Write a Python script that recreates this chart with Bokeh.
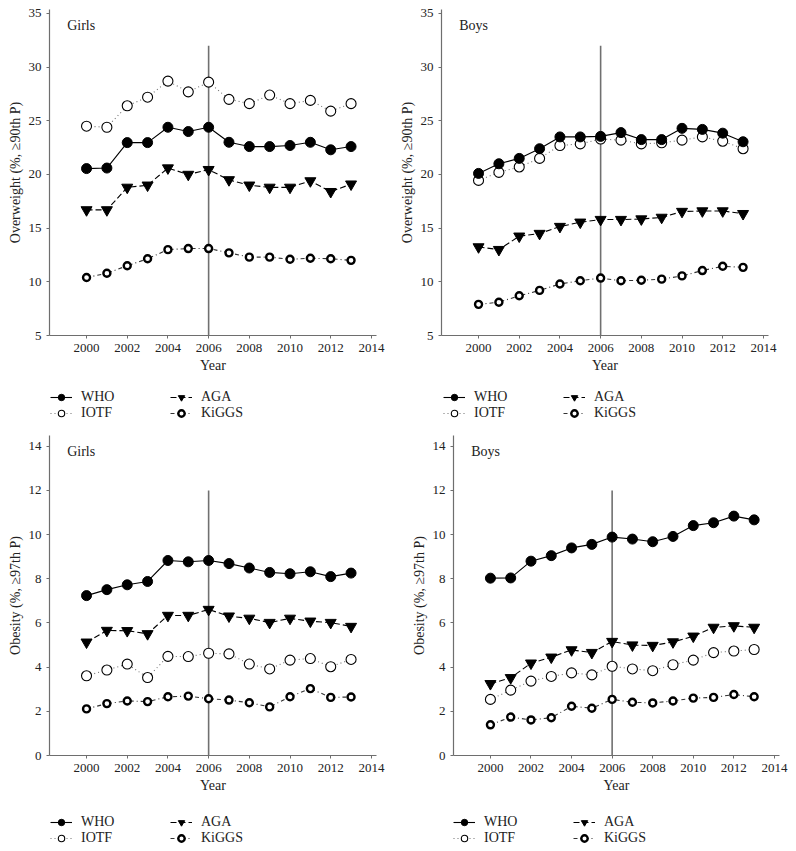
from bokeh.plotting import figure
from bokeh.layouts import column, row
from bokeh.models import Legend, LegendItem, Label, FixedTicker
from bokeh.embed import file_html
from bokeh.resources import INLINE

years = list(range(2000, 2014))

# Overweight, girls
ow_girls_who = [20.55, 20.6, 22.97, 22.97, 24.4, 24.0, 24.4, 23.0, 22.6, 22.6, 22.7, 23.0, 22.3, 22.6]
ow_girls_iotf = [24.5, 24.4, 26.4, 27.2, 28.7, 27.7, 28.6, 27.0, 26.6, 27.4, 26.6, 26.9, 25.9, 26.6]
ow_girls_aga = [16.7, 16.7, 18.8, 19.0, 20.6, 20.0, 20.45, 19.5, 19.0, 18.8, 18.8, 19.4, 18.4, 19.1]
ow_girls_kiggs = [10.4, 10.8, 11.5, 12.15, 13.0, 13.1, 13.1, 12.7, 12.3, 12.3, 12.1, 12.2, 12.15, 12.0]

# Overweight, boys
ow_boys_who = [20.1, 21.0, 21.5, 22.4, 23.5, 23.5, 23.55, 23.9, 23.25, 23.25, 24.3, 24.2, 23.85, 23.05]
ow_boys_iotf = [19.45, 20.2, 20.7, 21.5, 22.7, 22.85, 23.3, 23.2, 22.85, 22.95, 23.2, 23.5, 23.1, 22.4]
ow_boys_aga = [13.25, 13.0, 14.25, 14.5, 15.15, 15.55, 15.8, 15.8, 15.85, 16.0, 16.55, 16.6, 16.6, 16.35]
ow_boys_kiggs = [7.9, 8.1, 8.7, 9.2, 9.8, 10.1, 10.35, 10.1, 10.15, 10.25, 10.55, 11.05, 11.45, 11.35]

# Obesity, girls
ob_girls_who = [7.24, 7.51, 7.73, 7.88, 8.83, 8.77, 8.83, 8.69, 8.49, 8.29, 8.23, 8.32, 8.1, 8.26]
ob_girls_aga = [5.13, 5.66, 5.65, 5.51, 6.34, 6.34, 6.61, 6.31, 6.21, 6.02, 6.21, 6.08, 6.02, 5.84]
ob_girls_iotf = [3.61, 3.87, 4.14, 3.53, 4.49, 4.48, 4.63, 4.6, 4.14, 3.92, 4.32, 4.39, 4.02, 4.35]
ob_girls_kiggs = [2.11, 2.35, 2.47, 2.44, 2.66, 2.69, 2.57, 2.51, 2.39, 2.2, 2.66, 3.03, 2.63, 2.65]

# Obesity, boys
ob_boys_who = [8.03, 8.04, 8.8, 9.05, 9.4, 9.56, 9.89, 9.8, 9.68, 9.92, 10.41, 10.54, 10.84, 10.67]
ob_boys_aga = [3.25, 3.52, 4.18, 4.45, 4.78, 4.66, 5.16, 5.0, 4.98, 5.14, 5.4, 5.8, 5.87, 5.8]
ob_boys_iotf = [2.54, 2.96, 3.37, 3.58, 3.74, 3.65, 4.04, 3.92, 3.84, 4.11, 4.32, 4.66, 4.73, 4.8]
ob_boys_kiggs = [1.39, 1.74, 1.61, 1.71, 2.23, 2.14, 2.54, 2.41, 2.38, 2.47, 2.6, 2.63, 2.76, 2.66]

series_names = ["WHO", "IOTF", "AGA", "KiGGS"]
x_ticks = [2000, 2002, 2004, 2006, 2008, 2010, 2012, 2014]
ow_ticks = [5, 10, 15, 20, 25, 30, 35]
ob_ticks = [0, 2, 4, 6, 8, 10, 12, 14]
ref_year = 2006
ow_ref_top = 32
ob_ref_top = 12

FONT = "Liberation Serif"
AX = "#6e6e6e"

STYLES = {
    "WHO": (dict(line_color="black", line_width=1.1, line_dash="solid"),
            dict(marker="circle", size=10, fill_color="black", line_color="black")),
    "IOTF": (dict(line_color="#707070", line_width=1.1, line_dash="1 3"),
             dict(marker="circle", size=10, fill_color="white", line_color="black", line_width=1.1)),
    "AGA": (dict(line_color="black", line_width=1.1, line_dash="6 3"),
            dict(marker="inverted_triangle", size=11, fill_color="black", line_color="black")),
    "KiGGS": (dict(line_color="#333333", line_width=1.1, line_dash="4 3 1 3"),
              dict(marker="circle", size=7, fill_color="white", line_color="black", line_width=2.4)),
}


def panel(title, ylabel, series, yrange, yticks, ref_top, width, height, bl, br, bt, bb):
    p = figure(width=width, height=height, x_range=(1998.18, 2014.25), y_range=yrange,
               output_backend="svg", toolbar_location=None,
               min_border_left=bl, min_border_right=br, min_border_top=bt, min_border_bottom=bb)
    p.outline_line_color = None
    p.grid.visible = False
    for ax in (p.xaxis[0], p.yaxis[0]):
        ax.axis_line_color = AX
        ax.axis_line_width = 1.2
        ax.major_tick_line_color = AX
        ax.major_tick_in = 0
        ax.major_tick_out = 3
        ax.minor_tick_line_color = None
        ax.major_label_text_font = FONT
        ax.major_label_text_font_size = "13px"
        ax.major_label_text_color = "#222222"
        ax.axis_label_text_font = FONT
        ax.axis_label_text_font_size = "14px"
        ax.axis_label_text_font_style = "normal"
        ax.axis_label_text_color = "#222222"
        ax.major_label_standoff = 5
        ax.axis_label_standoff = 3
    p.xaxis.ticker = FixedTicker(ticks=x_ticks)
    p.yaxis.ticker = FixedTicker(ticks=yticks)
    p.xaxis.axis_label = "Year"
    p.yaxis.axis_label = ylabel

    p.segment(x0=[ref_year], y0=[yticks[0]], x1=[ref_year], y1=[ref_top],
              line_color="#707070", line_width=1.6)

    for name in ["IOTF", "KiGGS", "AGA", "WHO"]:
        ls, ms = STYLES[name]
        p.line(years, series[name], **ls)
        p.scatter(years, series[name], **ms)

    p.add_layout(Label(x=1999.05, y=yrange[1] - (yrange[1] - yrange[0]) * 0.05, text=title,
                       text_font=FONT, text_font_size="14px", text_baseline="middle",
                       text_color="#222222"))
    return p


def legend_fig(width, height, x0, y0, series):
    # the legend's own renderers hold the series but sit outside this strip's visible range
    f = figure(width=width, height=height, x_range=(0, 1), y_range=(0, 1),
               x_axis_type=None, y_axis_type=None, output_backend="svg",
               toolbar_location=None, min_border=0, min_border_left=0,
               min_border_right=0, min_border_top=0, min_border_bottom=0)
    f.outline_line_color = None
    f.grid.visible = False
    items = {}
    for name in series_names:
        ls, ms = STYLES[name]
        r1 = f.line(years, series[name], **ls)
        r2 = f.scatter(years, series[name], **ms)
        items[name] = LegendItem(label=name, renderers=[r1, r2])

    def mk(names, xloc):
        lg = Legend(items=[items[n] for n in names], location=(xloc, y0),
                    orientation="vertical", padding=0, margin=0, spacing=0,
                    glyph_width=22, glyph_height=16, label_height=16, label_standoff=9,
                    label_text_font=FONT, label_text_font_size="14px",
                    label_text_color="#222222", background_fill_alpha=0,
                    border_line_alpha=0)
        f.add_layout(lg, "center")

    mk(series_names[:2], x0)
    mk(series_names[2:], x0 + 120)
    return f


ow_label = "Overweight (%, \u226590th P)"
ob_label = "Obesity (%, \u226597th P)"

s1 = {"WHO": ow_girls_who, "IOTF": ow_girls_iotf, "AGA": ow_girls_aga, "KiGGS": ow_girls_kiggs}
s2 = {"WHO": ow_boys_who, "IOTF": ow_boys_iotf, "AGA": ow_boys_aga, "KiGGS": ow_boys_kiggs}
s3 = {"WHO": ob_girls_who, "IOTF": ob_girls_iotf, "AGA": ob_girls_aga, "KiGGS": ob_girls_kiggs}
s4 = {"WHO": ob_boys_who, "IOTF": ob_boys_iotf, "AGA": ob_boys_aga, "KiGGS": ob_boys_kiggs}

p1 = panel("Girls", ow_label, s1, (5, 35.37), ow_ticks, ow_ref_top, 396, 380, 49, 20, 9, 45)
p2 = panel("Boys", ow_label, s2, (5, 35.37), ow_ticks, ow_ref_top, 392, 380, 44, 20, 9, 45)
p3 = panel("Girls", ob_label, s3, (0, 14.49), ob_ticks, ob_ref_top, 396, 372, 49, 20, 7, 45)
p4 = panel("Boys", ob_label, s4, (0, 14.49), ob_ticks, ob_ref_top, 392, 372, 57, 9, 7, 45)

l1 = legend_fig(396, 48, 1, 7, s1)
l2 = legend_fig(392, 48, 2, 7, s2)
l3 = legend_fig(396, 48, 1, 2, s3)
l4 = legend_fig(392, 48, 0, 2, s4)

layout = column(row(column(p1, l1), column(p2, l2)), row(column(p3, l3), column(p4, l4)))
open("out.html", "w").write(file_html(layout, INLINE))
